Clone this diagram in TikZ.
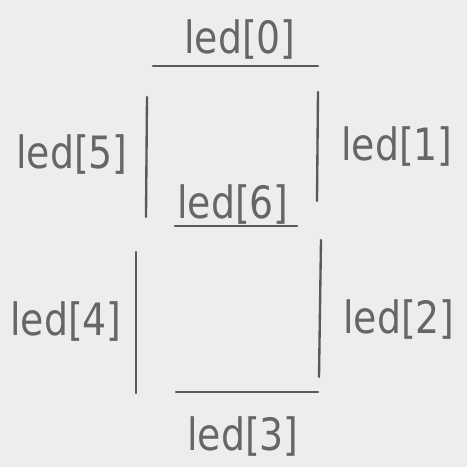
\documentclass[tikz,border=0pt]{standalone}
\usepackage{fontspec}
\setmainfont{DejaVu Sans}
\usetikzlibrary{positioning}

\tikzset{
    seg/.style={draw=black!65, line width=2pt, line cap=round},
    lbl/.style={text=black!60, font=\fontsize{38}{38}\selectfont\addfontfeature{FakeStretch=0.85}\mdseries}
}

\begin{document}
\begin{tikzpicture}[x=0.03cm, y=-0.03cm]
        \fill[black!7] (0,0) rectangle (467,467);
        \useasboundingbox (0,0) rectangle (467,467);

        % segment end points
        \coordinate (a0) at (153,66);  \coordinate (b0) at (318,66);
        \coordinate (a1) at (318,92);  \coordinate (b1) at (317,201);
        \coordinate (a2) at (321,240); \coordinate (b2) at (319,377);
        \coordinate (a3) at (176,392); \coordinate (b3) at (318,392);
        \coordinate (a4) at (136,252); \coordinate (b4) at (136,393);
        \coordinate (a5) at (147,97);  \coordinate (b5) at (146,217);
        \coordinate (a6) at (175,226); \coordinate (b6) at (297,226);

        \foreach \i in {0,...,6}
            \draw[seg] (a\i) -- (b\i);

        \node[lbl] (l0) at (240, 40) {led[0]};
        \node[lbl] (l1) at (397,147) {led[1]};
        \node[lbl] (l2) at (399,320) {led[2]};
        \node[lbl] (l3) at (243,437) {led[3]};
        \node[lbl] (l4) at (66,322) {led[4]};
        \node[lbl] (l5) at (72,155) {led[5]};
        \node[lbl] (l6) at (233,205) {led[6]};
    \end{tikzpicture}
\end{document}
